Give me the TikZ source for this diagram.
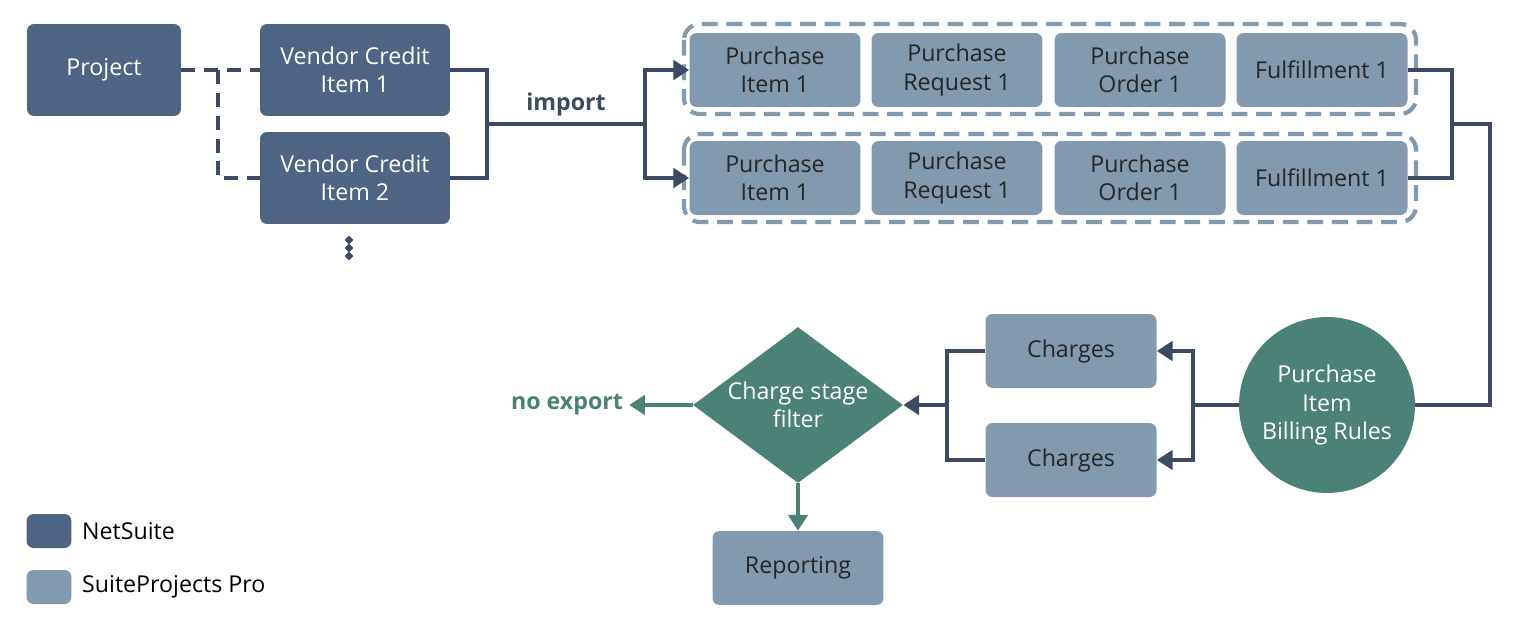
\documentclass[tikz,border=0pt]{standalone}
\usepackage{fontspec}
\setmainfont{Open Sans}
\usetikzlibrary{arrows.meta,shapes.geometric}
\definecolor{nsblue}{HTML}{4F6483}
\definecolor{spgray}{HTML}{8399AD}
\definecolor{teal}{HTML}{4A8278}
\definecolor{wire}{HTML}{3D4A63}
\tikzset{
  ns/.style={fill=nsblue, rounded corners=4pt, text=white, align=center, inner sep=0pt},
  sp/.style={fill=spgray, rounded corners=4pt, text=black!85, align=center, inner sep=0pt, minimum width=3.42cm, minimum height=1.48cm},
  wire/.style={draw=wire, line width=2.4pt},
  arr/.style={wire, -{Triangle[width=11pt,length=9pt]}},
  grp/.style={draw=spgray, line width=2.4pt, dash pattern=on 9pt off 5pt, rounded corners=9pt},
}
\begin{document}
\begin{tikzpicture}[x=0.02cm, y=-0.02cm, font=\fontsize{13.2}{16}\selectfont]
            \useasboundingbox (0,0) rectangle (1517,623);
            \def\ya{70};
            \def\yb{178};
            \def\yc{405};

            % NetSuite side
            \node[ns, minimum width=3.08cm, minimum height=1.84cm] (project) at (104,\ya) {Project};
            \node[ns, minimum width=3.8cm, minimum height=1.84cm] (vc1) at (355,\ya) {Vendor Credit\\Item 1};
            \node[ns, minimum width=3.8cm, minimum height=1.84cm] (vc2) at (355,\yb) {Vendor Credit\\Item 2};
            \foreach \d in {240,248,256} \fill[wire] (349,\d) circle (0.8pt);

            \draw[wire, dash pattern=on 8pt off 5pt] (project.east) -- (vc1.west);
            \draw[wire, dash pattern=on 8pt off 5pt] (218,\ya) |- (vc2.west);

            \coordinate (join) at (487,124);
            \coordinate (split) at (645,124);
            \draw[wire] (vc1.east) -| (join);
            \draw[wire] (vc2.east) -| (join);
            \draw[wire] (join) -- node[above, text=wire, font=\fontsize{13.2}{16}\selectfont\bfseries] {import} (split);

            % groups
            \draw[grp] (684,24) rectangle (1416,114);
            \draw[grp] (684,134) rectangle (1416,222);

            \foreach \y/\r in {\ya/a, \yb/b} {
              \node[sp] (pi\r) at (775,\y) {Purchase\\Item 1};
              \node[sp] (pr\r) at (957,\y) {Purchase\\Request 1};
              \node[sp] (po\r) at (1140,\y) {Purchase\\Order 1};
              \node[sp] (ff\r) at (1322,\y) {Fulfillment 1};
            }
            \draw[arr] (split) |- (pia.west);
            \draw[arr] (split) |- (pib.west);

            % billing
            \node[circle, fill=teal, text=white, align=center, minimum size=3.52cm, inner sep=0pt] (rules) at (1327,\yc) {Purchase\\Item\\Billing Rules};
            \coordinate (merge) at (1452,124);
            \draw[wire] (ffa.east) -| (merge);
            \draw[wire] (ffb.east) -| (merge);
            \draw[wire] (merge) -| (1490,\yc) -- (rules.east);

            \node[sp] (ch1) at (1071,351) {Charges};
            \node[sp] (ch2) at (1071,460) {Charges};
            \coordinate (fork) at (1193,\yc);
            \draw[wire] (rules.west) -- (fork);
            \draw[arr] (fork) |- (ch1.east);
            \draw[arr] (fork) |- (ch2.east);

            \node[diamond, fill=teal, text=white, align=center, minimum width=4.2cm, minimum height=3.12cm, inner sep=0pt, aspect=1.35] (filter) at (798,\yc) {Charge stage\\filter};
            \coordinate (gather) at (947,\yc);
            \draw[wire] (ch1.west) -| (gather);
            \draw[wire] (ch2.west) -| (gather);
            \draw[arr] (gather) -- (filter.east);

            \node[text=teal, font=\fontsize{13.2}{16}\selectfont\bfseries] (noexp) at (567,\yc) {no export};
            \draw[arr, draw=teal] (filter.west) -- (noexp.east);
            \node[sp] (report) at (798,568) {Reporting};
            \draw[arr, draw=teal] (filter.south) -- (report.north);

            % legend
            \node[ns, minimum width=0.9cm, minimum height=0.68cm] (lns) at (49,531) {};
            \node[anchor=west] at (76,531) {NetSuite};
            \node[sp, minimum width=0.9cm, minimum height=0.68cm] (lsp) at (49,587) {};
            \node[anchor=west] at (76,587) {SuiteProjects Pro};
        \end{tikzpicture}
\end{document}
